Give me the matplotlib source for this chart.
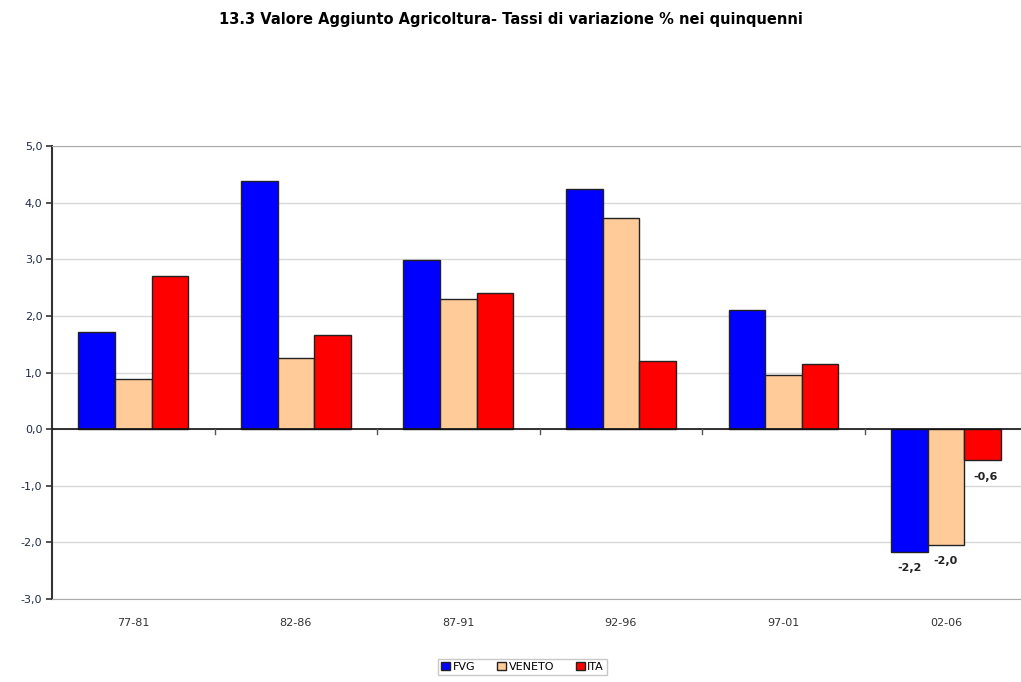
import numpy as np
import matplotlib.pyplot as plt
from matplotlib.ticker import FuncFormatter

# ── dati ──────────────────────────────────────────────────────────────
periodi = ["77-81", "82-86", "87-91", "92-96", "97-01", "02-06"]
fvg = [1.71, 4.38, 2.99, 4.24, 2.10, -2.17]
veneto = [0.88, 1.25, 2.30, 3.73, 0.95, -2.04]
ita = [2.70, 1.66, 2.40, 1.20, 1.15, -0.55]
serie = ["FVG", "VENETO", "ITA"]
colori = ["#0000FF", "#FFCC99", "#FF0000"]

fig = plt.figure(figsize=(10.21, 6.82), dpi=100)
ax = fig.add_axes([0.051, 0.1217, 0.955, 0.664])

x = np.arange(len(periodi))
w = 0.225
for i, (vals, nome, col) in enumerate(zip([fvg, veneto, ita], serie, colori)):
    ax.bar(x + (i - 1) * w, vals, width=w, color=col, edgecolor="#222222",
           linewidth=1.0, label=nome, zorder=3)

# etichette dei valori negativi
for i, vals in enumerate([fvg, veneto, ita]):
    v = vals[-1]
    dx = (i - 1) * w + (0.02 if i == 2 else 0)
    ax.text(x[-1] + dx, v - 0.2, f"{v:.1f}".replace(".", ","),
            ha="center", va="top", fontsize=8, fontweight="bold", color="#222222")

ax.set_xlim(-0.5, len(periodi) - 0.5)
ax.set_ylim(-3, 5)
ax.set_yticks(np.arange(-3, 5.1, 1))
ax.yaxis.set_major_formatter(FuncFormatter(lambda v, p: f"{v:.1f}".replace(".", ",")))
ax.tick_params(axis="y", labelsize=8, labelcolor="#1F2A44", length=4, width=1.2,
               color="#333333", pad=3)
ax.grid(axis="y", color="#D8D8D8", linewidth=1.0, zorder=0)

# asse x sullo zero con tacche ai confini delle categorie
ax.axhline(0, color="#111111", linewidth=1.2, zorder=4)
ax.set_xticks(x)
ax.set_xticklabels(periodi)
ax.tick_params(axis="x", length=0, labelsize=8, labelcolor="#333333", pad=14)
for b in np.arange(0.5, len(periodi) - 0.5, 1):
    ax.plot([b, b], [0, -0.08], color="#555555", linewidth=1, zorder=4)

ax.spines["right"].set_visible(False)
ax.spines["left"].set_color("#333333")
ax.spines["left"].set_linewidth(1.5)
ax.spines["top"].set_color("#AAAAAA")
ax.spines["bottom"].set_color("#AAAAAA")

fig.text(0.5, 0.972, "13.3 Valore Aggiunto Agricoltura- Tassi di variazione % nei quinquenni",
         ha="center", va="center", fontsize=10.5, fontweight="bold")

fig.legend(loc="center", bbox_to_anchor=(0.512, 0.022), ncol=3, fontsize=8,
           frameon=True, fancybox=False, edgecolor="#BBBBBB",
           handlelength=0.8, handleheight=0.8, handletextpad=0.2,
           columnspacing=2.0, borderpad=0.3)

plt.savefig("out.png", dpi=100)
